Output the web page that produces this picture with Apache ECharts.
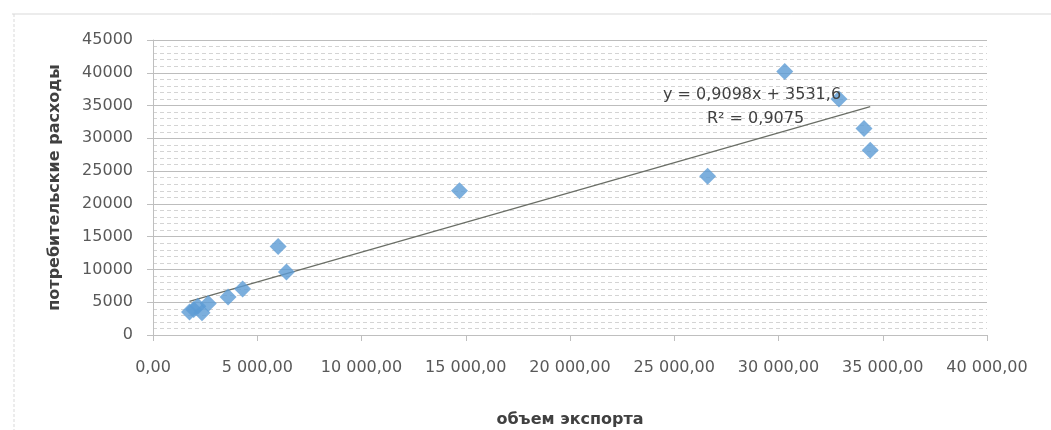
<!DOCTYPE html>
<html>
<head>
<meta charset="utf-8">
<script src="https://cdn.jsdelivr.net/npm/echarts@6/dist/echarts.min.js"></script>
<style>
html,body{margin:0;padding:0;background:#fff;}
#chart{width:1051px;height:430px;}
</style>
</head>
<body>
<div id="chart"></div>
<script>
// Data
var exportVolume = [1750, 1950, 2150, 2350, 2650, 3600, 4300, 6000, 6400, 14700, 26600, 30300, 32900, 34100, 34400];
var consumerSpending = [3500, 3900, 4400, 3400, 4800, 5800, 7000, 13500, 9600, 22000, 24200, 40200, 36000, 31500, 28200];
var trendSlope = 0.9098;
var trendIntercept = 3531.6;
var equationText = 'y = 0,9098x + 3531,6';
var r2Text = 'R² = 0,9075';
var xTitle = 'объем экспорта';
var yTitle = 'потребительские расходы';

var points = exportVolume.map(function (x, i) { return [x, consumerSpending[i]]; });
var xMin = Math.min.apply(null, exportVolume);
var xMax = Math.max.apply(null, exportVolume);
var trend = [[xMin, trendSlope * xMin + trendIntercept], [xMax, trendSlope * xMax + trendIntercept]];

function fmtX(v) {
  var s = String(Math.round(v));
  s = s.replace(/\B(?=(\d{3})+(?!\d))/g, ' ');
  return s + ',00';
}
function fmtY(v) { return String(Math.round(v)); }

var font = 'DejaVu Sans';
var chart = echarts.init(document.getElementById('chart'));
chart.setOption({
  animation: false,
  backgroundColor: '#ffffff',
  grid: { left: 153, right: 64, top: 40, bottom: 95, containLabel: false, outerBoundsMode: 'none' },
  xAxis: {
    type: 'value', min: 0, max: 40000, interval: 5000,
    name: xTitle, nameLocation: 'middle', nameGap: 77,
    nameTextStyle: { fontFamily: font, fontSize: 16, fontWeight: 'bold', color: '#404040' },
    axisLine: { show: true, lineStyle: { color: '#bfbfbf', width: 1 } },
    axisTick: { show: true, length: 6, lineStyle: { color: '#bfbfbf' } },
    axisLabel: { margin: 25, fontFamily: font, fontSize: 16, color: '#595959', formatter: fmtX },
    splitLine: { show: false }
  },
  yAxis: {
    type: 'value', min: 0, max: 45000, interval: 5000,
    name: yTitle, nameLocation: 'middle', nameGap: 90, nameRotate: 90,
    nameTextStyle: { fontFamily: font, fontSize: 16, fontWeight: 'bold', color: '#404040' },
    axisLine: { show: true, lineStyle: { color: '#bfbfbf', width: 1 } },
    axisTick: { show: true, length: 6, lineStyle: { color: '#bfbfbf' } },
    axisLabel: { margin: 20, fontFamily: font, fontSize: 16, color: '#595959', formatter: fmtY },
    splitLine: { show: true, lineStyle: { color: '#bdbdbd', width: 1 } },
    minorTick: { show: false, splitNumber: 5 },
    minorSplitLine: { show: true, lineStyle: { color: '#d4d4d4', width: 1, type: [4, 3] } }
  },
  graphic: [
    { type: 'line', shape: { x1: 12, y1: 14, x2: 1051, y2: 14 }, style: { stroke: '#d9d9d9', lineWidth: 1 }, silent: true },
    { type: 'line', shape: { x1: 14, y1: 14, x2: 14, y2: 430 }, style: { stroke: '#d9d9d9', lineWidth: 1, lineDash: [3, 2] }, silent: true },
    { type: 'text', left: 663, top: 87, style: { text: equationText, font: '16px "DejaVu Sans"', fill: '#404040' }, z: 10 },
    { type: 'text', left: 707, top: 111, style: { text: r2Text, font: '16px "DejaVu Sans"', fill: '#404040' }, z: 10 }
  ],
  series: [
    {
      type: 'line', data: trend, symbol: 'none', silent: true,
      lineStyle: { color: '#6a6e66', width: 1.2 }, z: 3
    },
    {
      type: 'scatter', data: points, symbol: 'diamond', symbolSize: 17,
      itemStyle: { color: '#5b9bd5' }, z: 4
    }
  ]
});
</script>
</body>
</html>
